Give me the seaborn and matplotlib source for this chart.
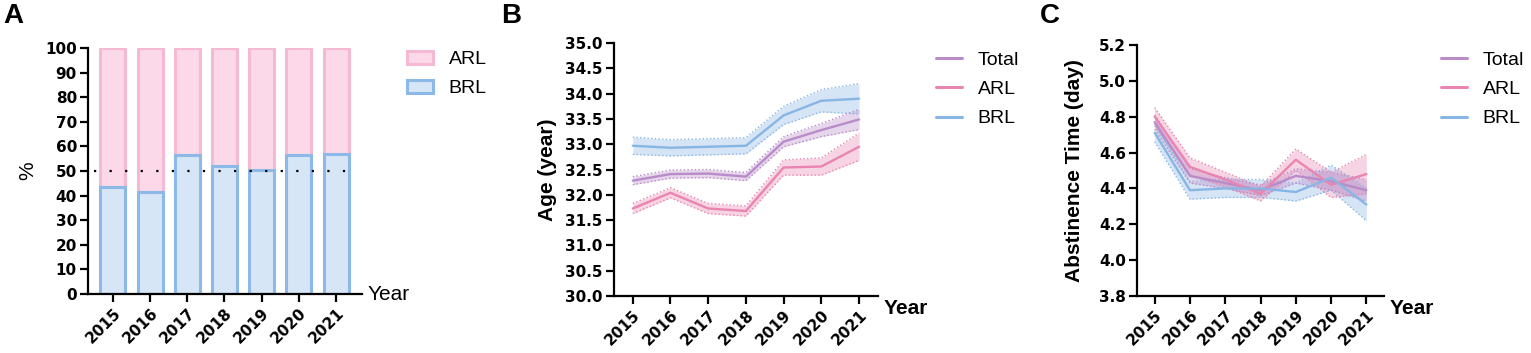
import matplotlib
matplotlib.use("Agg")
import matplotlib.pyplot as plt
import seaborn as sns
import pandas as pd
import numpy as np
from matplotlib.ticker import FormatStrFormatter

# data
years = [2015, 2016, 2017, 2018, 2019, 2020, 2021]
brl_pct = [43.6, 41.6, 56.5, 52.0, 50.4, 56.5, 56.8]
arl_pct = [100 - v for v in brl_pct]

total_age = [32.28, 32.41, 32.42, 32.36, 33.05, 33.28, 33.49]
total_age_err = [0.08, 0.08, 0.08, 0.08, 0.10, 0.13, 0.20]
arl_age = [31.73, 32.04, 31.73, 31.68, 32.54, 32.56, 32.95]
arl_age_err = [0.10, 0.10, 0.10, 0.10, 0.15, 0.17, 0.27]
brl_age = [32.97, 32.93, 32.95, 32.97, 33.57, 33.86, 33.90]
brl_age_err = [0.17, 0.16, 0.16, 0.16, 0.18, 0.22, 0.30]

total_abs = [4.77, 4.47, 4.43, 4.39, 4.47, 4.44, 4.39]
total_abs_err = [0.04, 0.04, 0.03, 0.03, 0.04, 0.05, 0.06]
arl_abs = [4.80, 4.52, 4.45, 4.37, 4.56, 4.42, 4.48]
arl_abs_err = [0.05, 0.05, 0.04, 0.04, 0.06, 0.07, 0.11]
brl_abs = [4.71, 4.39, 4.40, 4.40, 4.38, 4.46, 4.31]
brl_abs_err = [0.05, 0.05, 0.05, 0.05, 0.05, 0.07, 0.09]

groups = ["Total", "ARL", "BRL"]
line_colors = {"Total": "#b98bc9", "ARL": "#e985b0", "BRL": "#88b6e4"}
pink_fill, pink_edge = "#fbd9e8", "#f6b9d3"
blue_fill, blue_edge = "#d6e6f6", "#8cb9e8"

sns.set_theme(style="ticks")
plt.rcParams["font.family"] = ["Liberation Sans", "DejaVu Sans"]
for k in ["text.color", "axes.labelcolor", "xtick.color", "ytick.color"]:
    plt.rcParams[k] = "black"

fig = plt.figure(figsize=(15.31, 3.53), dpi=100)
axA = fig.add_axes([0.0575, 0.167, 0.179, 0.697])
axB = fig.add_axes([0.401, 0.1615, 0.1724, 0.7165])
axC = fig.add_axes([0.7427, 0.1615, 0.1613, 0.711])


def style_axis(ax):
    sns.despine(ax=ax)
    for s in ["left", "bottom"]:
        ax.spines[s].set_linewidth(1.6)
        ax.spines[s].set_color("black")
    ax.tick_params(axis="both", length=6, width=1.6, color="black", pad=2)
    for lab in ax.get_yticklabels() + ax.get_xticklabels():
        lab.set_fontfamily("DejaVu Sans")
        lab.set_fontweight("bold")
        lab.set_fontsize(11)
    for lab in ax.get_xticklabels():
        lab.set_rotation(45)
        lab.set_ha("right")
        lab.set_rotation_mode("anchor")


leg_kw = dict(loc="upper left", bbox_transform=fig.transFigure, frameon=False,
              fontsize=14, borderpad=0, borderaxespad=0, handlelength=1.35,
              labelspacing=0.6, handletextpad=0.8)

# ---- panel A: stacked percentage bars
totals = [a + b for a, b in zip(arl_pct, brl_pct)]
xs = [str(y) for y in years]
sns.barplot(x=xs, y=totals, color=pink_fill, edgecolor=pink_edge,
            linewidth=2.2, width=0.67, saturation=1, ax=axA, label="ARL")
sns.barplot(x=xs, y=brl_pct, color=blue_fill, edgecolor=blue_edge,
            linewidth=2.2, width=0.67, saturation=1, ax=axA, label="BRL")
axA.hlines(50, -0.5, 6.55, colors="black", linestyles=(0, (1, 6)), lw=1.6)
axA.set_ylim(0, 100)
axA.set_xlim(-0.67, 6.7)
axA.set_yticks(range(0, 101, 10))
axA.set_ylabel("%", fontsize=15, labelpad=6)
axA.set_xlabel("")
style_axis(axA)
axA.annotate("Year", xy=(1, 0), xycoords="axes fraction", xytext=(4, 0),
             textcoords="offset points", va="center", ha="left", fontsize=15)
hA, lA = axA.get_legend_handles_labels()
axA.legend(hA, lA, bbox_to_anchor=(407 / 1531, 0.855), handleheight=0.62,
           **leg_kw)


# ---- panels B and C: lines with bands
def line_panel(ax, series, errs, ylim, yticks, ylabel, leg_x, pad):
    rows = []
    for g in groups:
        for y, v in zip(years, series[g]):
            rows.append({"Year": y, "value": v, "group": g})
    df = pd.DataFrame(rows)
    for g in ["BRL", "ARL", "Total"]:
        m = np.array(series[g])
        e = np.array(errs[g])
        ax.fill_between(years, m - e, m + e, color=line_colors[g], alpha=0.35,
                        lw=0)
        ax.plot(years, m - e, color=line_colors[g], lw=1, ls=":")
        ax.plot(years, m + e, color=line_colors[g], lw=1, ls=":")
    sns.lineplot(data=df, x="Year", y="value", hue="group", hue_order=groups,
                 palette=line_colors, lw=1.7, ax=ax, errorbar=None)
    ax.set_xlim(2014.5, 2021.5)
    ax.set_xticks(years)
    ax.set_ylim(*ylim)
    ax.set_yticks(yticks)
    ax.yaxis.set_major_formatter(FormatStrFormatter("%.1f"))
    ax.set_xlabel("")
    ax.set_ylabel(ylabel, fontsize=15, fontweight="bold", labelpad=pad)
    style_axis(ax)
    ax.annotate("Year", xy=(1, 0), xycoords="axes fraction", xytext=(4, -9),
                textcoords="offset points", va="center", ha="left",
                fontsize=15, fontweight="bold")
    h, l = ax.get_legend_handles_labels()
    legend = ax.legend(h, l, bbox_to_anchor=(leg_x, 0.855), **leg_kw)
    for ln in legend.get_lines():
        ln.set_linewidth(2.2)


line_panel(axB, {"Total": total_age, "ARL": arl_age, "BRL": brl_age},
           {"Total": total_age_err, "ARL": arl_age_err, "BRL": brl_age_err},
           (30, 35), np.arange(30, 35.01, 0.5), "Age (year)", 936 / 1531, 6)
line_panel(axC, {"Total": total_abs, "ARL": arl_abs, "BRL": brl_abs},
           {"Total": total_abs_err, "ARL": arl_abs_err, "BRL": brl_abs_err},
           (3.8, 5.2), np.arange(3.8, 5.21, 0.2), "Abstinence Time (day)",
           1441 / 1531, 11)

for letter, x in [("A", 0.002), ("B", 0.327), ("C", 0.679)]:
    fig.text(x, 0.955, letter, fontsize=20, fontweight="bold", va="center")

fig.savefig("out.png", dpi=100)
